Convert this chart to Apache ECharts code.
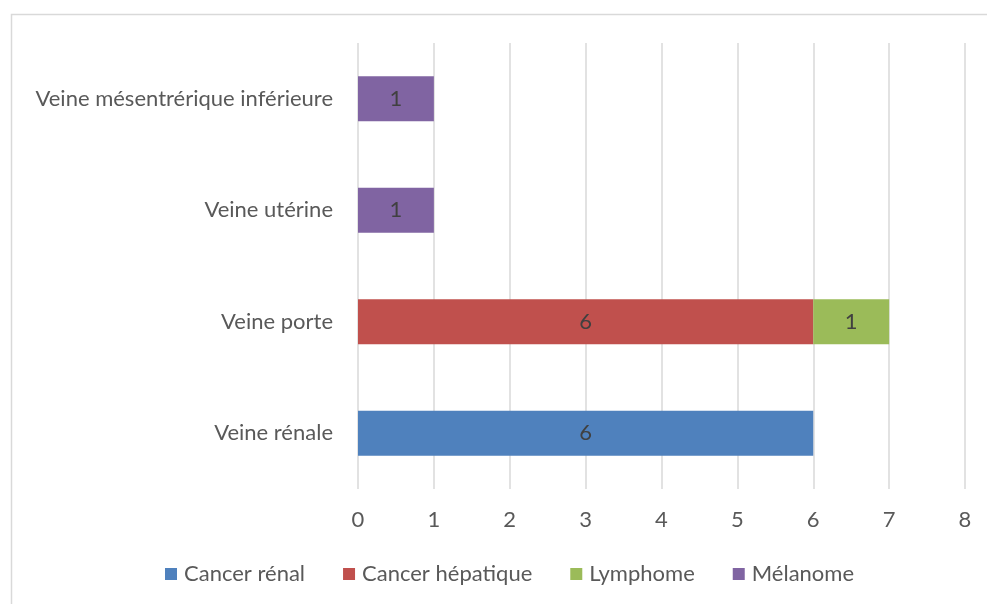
<!DOCTYPE html>
<html>
<head>
<meta charset="utf-8">
<script src="https://cdn.jsdelivr.net/npm/echarts@6/dist/echarts.min.js"></script>
<style>
  html, body { margin: 0; padding: 0; background: #fff; }
  #chart { width: 987px; height: 604px; }
</style>
</head>
<body>
<div id="chart"></div>
<script>
// categories, bottom to top
const categories = ['Veine rénale', 'Veine porte', 'Veine utérine', 'Veine mésentrérique inférieure']
const cancerRenal = [6, null, null, null]
const cancerHepatique = [null, 6, null, null]
const lymphome = [null, 1, null, null]
const melanome = [null, null, 1, 1]
const xTicks = [0, 1, 2, 3, 4, 5, 6, 7, 8]

const font = 'Lato'
const textColor = '#595959'

const chart = echarts.init(document.getElementById('chart'))

function barSeries(name, data, color) {
  return {
    name: name,
    type: 'bar',
    stack: 'total',
    barWidth: 45,
    data: data,
    itemStyle: { color: color },
    label: {
      show: true,
      position: 'inside',
      color: '#404040',
      fontFamily: font,
      fontSize: 22,
      formatter: p => (p.value == null ? '' : p.value)
    }
  }
}

chart.setOption({
  animation: false,
  graphic: [{
    type: 'rect',
    shape: { x: 11.5, y: 14.5, width: 1000, height: 700 },
    style: { fill: 'none', stroke: '#d9d9d9', lineWidth: 1.5 },
    silent: true,
    z: -1
  }],
  grid: { left: 358, right: 22, top: 43, bottom: 115 },
  legend: {
    bottom: 14,
    left: 160,
    itemWidth: 12,
    itemHeight: 12,
    itemGap: 38,
    icon: 'rect',
    textStyle: { color: textColor, fontFamily: font, fontSize: 22, padding: [0, 0, 0, 2] }
  },
  xAxis: {
    type: 'value',
    min: xTicks[0],
    max: xTicks[xTicks.length - 1],
    interval: 1,
    axisLine: { show: false },
    axisTick: { show: false },
    axisLabel: { color: textColor, fontFamily: font, fontSize: 22, margin: 20 },
    splitLine: { lineStyle: { color: '#d9d9d9', width: 1.5 } }
  },
  yAxis: {
    type: 'category',
    data: categories,
    axisLine: { show: false },
    axisTick: { show: false },
    axisLabel: { color: textColor, fontFamily: font, fontSize: 22, margin: 25 }
  },
  series: [
    barSeries('Cancer rénal', cancerRenal, '#4f81bd'),
    barSeries('Cancer hépatique', cancerHepatique, '#c0504d'),
    barSeries('Lymphome', lymphome, '#9bbb59'),
    barSeries('Mélanome', melanome, '#8064a2')
  ]
})
</script>
</body>
</html>
